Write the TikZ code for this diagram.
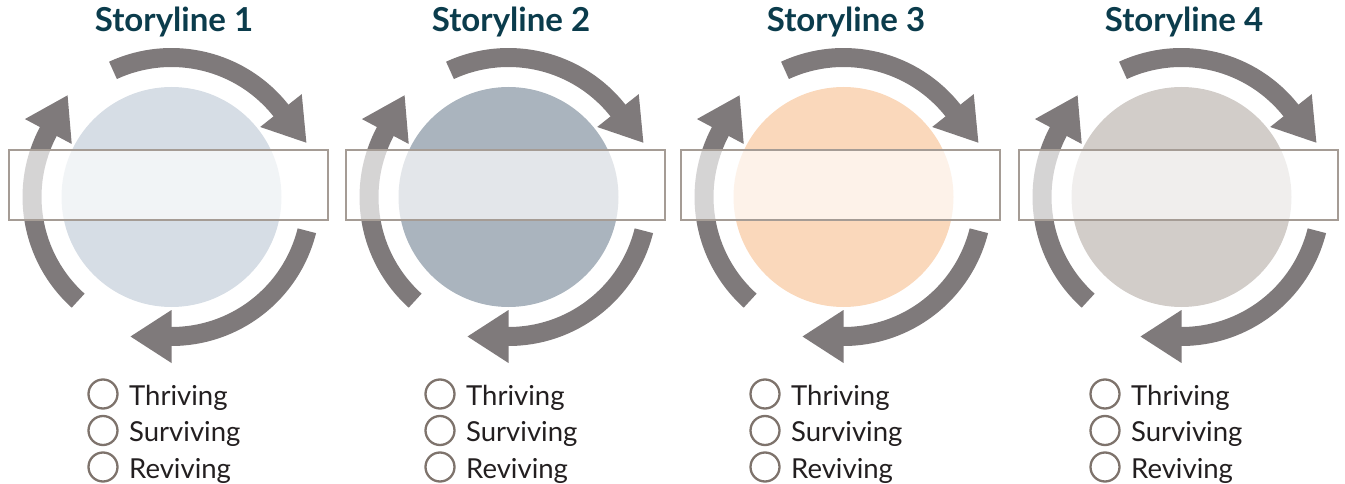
\documentclass[tikz,border=0pt]{standalone}
\usepackage{fontspec}
\setmainfont{Lato}
\usetikzlibrary{calc}
\definecolor{arrowgray}{HTML}{7F7A7B}
\definecolor{titlecol}{HTML}{0B3C4C}
\definecolor{textcol}{HTML}{231F20}
\definecolor{boxline}{HTML}{A59C95}
\definecolor{tickline}{HTML}{7E736C}
\definecolor{discA}{HTML}{D6DDE5}
\definecolor{discB}{HTML}{AAB4BE}
\definecolor{discC}{HTML}{FAD8BB}
\definecolor{discD}{HTML}{D2CDC9}
\begin{document}
\begin{tikzpicture}[x=1pt,y=1pt,
  disc/.style={circle, draw=none, minimum size=220pt, inner sep=0pt},
  band/.style={draw=arrowgray, line width=19pt, line cap=butt},
  head/.style={fill=arrowgray},
  labelbox/.style={rectangle, draw=boxline, line width=1.8pt, fill=white, fill opacity=0.68, draw opacity=1, minimum width=319pt, minimum height=70pt, inner sep=0pt},
  titletext/.style={font=\bfseries\fontsize{33}{38}\selectfont, text=titlecol, inner sep=0pt},
  tick/.style={circle, draw=tickline, line width=2.3pt, minimum size=29pt, inner sep=0pt},
  itemtext/.style={font=\fontsize{27.5}{32}\selectfont, text=textcol, inner sep=0pt, anchor=base west}
]
\useasboundingbox (0,0) rectangle (1345,-484);
\foreach \i/\dx/\col/\lx in {1/0/discA/103, 2/337/discB/440, 3/672/discC/765, 4/1010/discD/1105} {
  \coordinate (o\i) at (171.5+\dx,-197);
  \node[disc, fill=\col] (d\i) at (o\i) {};
  \foreach \s/\e [count=\a] in {228/152, 114.8/38.3, 346/270} {
    \pgfmathsetmacro{\ee}{\e-0.6}
    \pgfmathsetmacro{\tt}{\e-90}
    \draw[band] ($(o\i)+(\s:139.5)$) arc[start angle=\s, end angle=\ee, radius=139.5];
    \coordinate (wa\i\a) at ($(o\i)+(\e:166)$);
    \coordinate (wb\i\a) at ($(o\i)+(\e:113)$);
    \coordinate (tp\i\a) at ($(o\i)+(\e:139.5)+(\tt:41)$);
    \fill[head] (wa\i\a) -- (tp\i\a) -- (wb\i\a) -- cycle;
  }
  \node[labelbox] (b\i) at (168.5+\dx,-185) {};
  \node[titletext, anchor=base] (t\i) at (174+\dx,-32) {Storyline \i};
  \foreach \w [count=\k] in {Thriving, Surviving, Reviving} {
    \pgfmathsetmacro{\cy}{394+36.5*(\k-1)}
    \node[tick] (k\i\k) at (\lx,-\cy) {};
    \node[itemtext] (w\i\k) at (\lx+26,-\cy-11) {\w};
  }
}
\end{tikzpicture}
\end{document}
